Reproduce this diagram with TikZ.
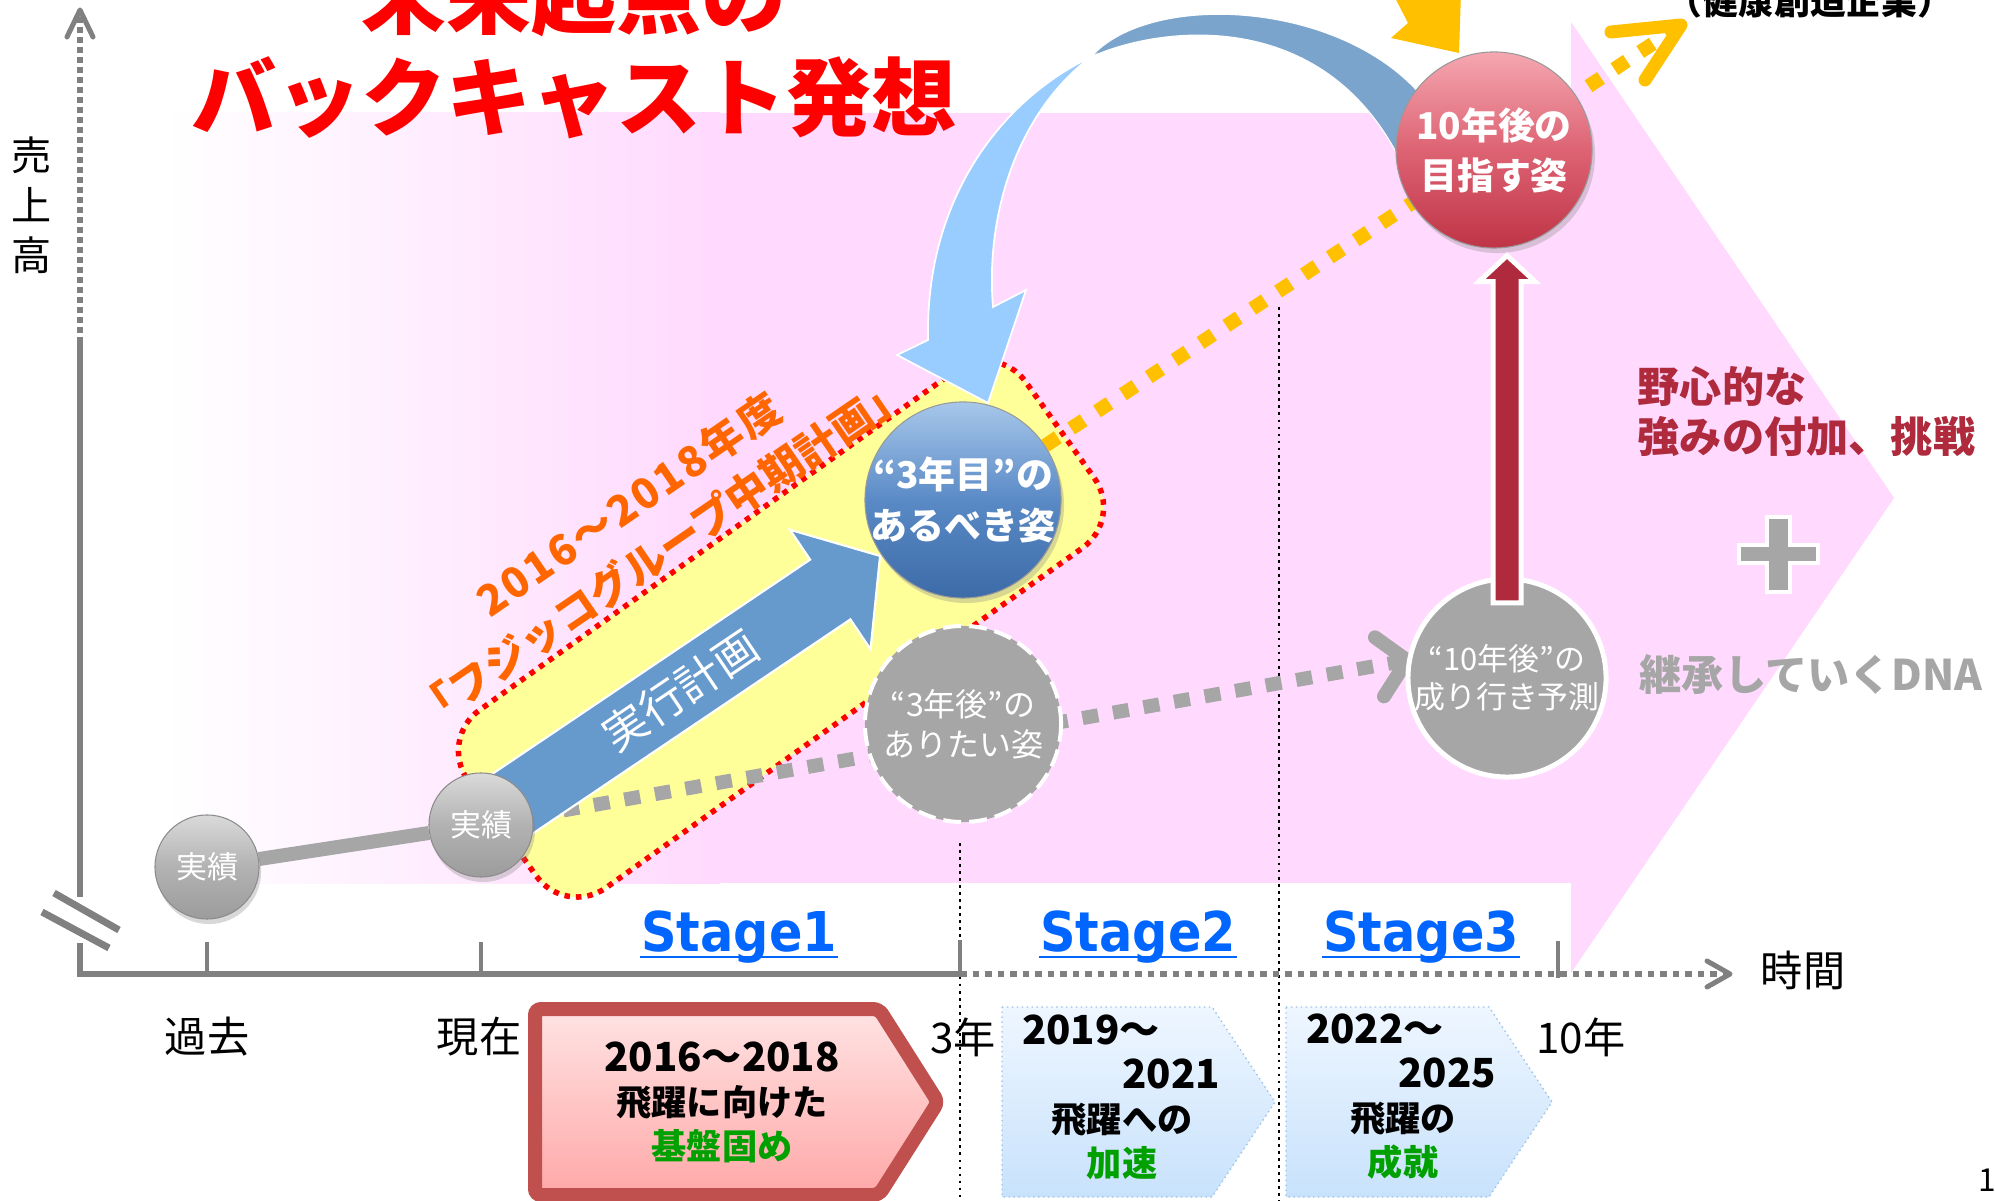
\documentclass[tikz,border=0pt]{standalone}
\usepackage{fontspec}
\usepackage{graphicx}
\setmainfont{Noto Sans CJK JP}
\newfontfamily\stagefont{DejaVu Sans}
\usetikzlibrary{calc,shadows}

\definecolor{pinkbg}{HTML}{FFD9FE}
\definecolor{bandyellow}{HTML}{FFFF99}
\definecolor{planblue}{HTML}{6699CC}
\definecolor{arcdark}{HTML}{7BA4CC}
\definecolor{arclight}{HTML}{99CCFF}
\definecolor{gold}{HTML}{FFC000}
\definecolor{dotgray}{HTML}{A6A6A6}
\definecolor{axisgray}{HTML}{808080}
\definecolor{growred}{HTML}{AE2A3C}
\definecolor{stageblue}{HTML}{0066FF}
\definecolor{boxred}{HTML}{C0504D}
\definecolor{boxpinktop}{HTML}{FFE3E3}
\definecolor{boxpinkbot}{HTML}{FFA8A8}
\definecolor{boxbluetop}{HTML}{EEF6FF}
\definecolor{boxbluebot}{HTML}{C8E2FC}
\definecolor{boxblueline}{HTML}{9DC3E6}
\definecolor{kgreen}{HTML}{00A000}
\definecolor{orangetxt}{HTML}{FF6600}
\definecolor{titlered}{HTML}{FF0000}
\definecolor{bluetop}{HTML}{A7C7EA}
\definecolor{bluemid}{HTML}{5A8AC6}
\definecolor{bluebot}{HTML}{3C6BA8}
\definecolor{redtop}{HTML}{F5A7B1}
\definecolor{redmid}{HTML}{DD6373}
\definecolor{redbot}{HTML}{BF3447}
\definecolor{graytop}{HTML}{DADADA}
\definecolor{graymid}{HTML}{B2B2B2}
\definecolor{graybot}{HTML}{9C9C9C}

\pgfdeclarelayer{back}
\pgfdeclarelayer{mid}
\pgfsetlayers{back,mid,main}

\begin{document}
\begin{tikzpicture}[x=0.01cm, y=-0.01cm,
    sphere/.style={circle, inner sep=-2pt, align=center, text=white},
    jisseki/.style={sphere, minimum size=1.04cm, top color=graytop,
      bottom color=graybot, middle color=graymid, draw=black!45, line width=0.3pt,
      drop shadow={opacity=0.3, shadow xshift=0.02cm, shadow yshift=-0.05cm},
      font=\fontsize{8.8}{10}\selectfont},
    bluesphere/.style={sphere, minimum size=1.96cm, top color=bluetop,
      bottom color=bluebot, middle color=bluemid, draw=black!40, line width=0.3pt,
      drop shadow={opacity=0.3, shadow xshift=0.03cm, shadow yshift=-0.05cm},
      font=\fontsize{10.5}{14.5}\selectfont\bfseries},
    redsphere/.style={sphere, minimum size=1.96cm, top color=redtop,
      bottom color=redbot, middle color=redmid, draw=black!40, line width=0.3pt,
      drop shadow={opacity=0.3, shadow xshift=0.03cm, shadow yshift=-0.05cm},
      font=\fontsize{10.5}{14.2}\selectfont\bfseries},
    wantcircle/.style={sphere, minimum size=1.96cm, fill=dotgray, draw=white,
      line width=0.04cm, dash pattern=on 0.18cm off 0.08cm,
      font=\fontsize{9.1}{11.4}\selectfont},
    forecast/.style={sphere, minimum size=1.98cm, fill=dotgray, draw=white,
      line width=0.05cm, font=\fontsize{8.8}{10.8}\selectfont},
    band/.style={fill=bandyellow, draw=red, line width=0.055cm,
      dash pattern=on 0.055cm off 0.06cm, rounded corners=0.5cm,
      minimum width=6.85cm, minimum height=2.18cm, inner sep=0pt},
    plantext/.style={align=center, text=orangetxt,
      font=\fontsize{12}{16.4}\selectfont\bfseries},
    plantxt/.style={text=white, font=\fontsize{12.5}{14}\selectfont},
    actline/.style={draw=dotgray, line width=0.14cm},
    graydots/.style={draw=dotgray, line width=0.14cm, dash pattern=on 0.16cm off 0.15cm},
    graychev/.style={draw=dotgray, line width=0.14cm, line cap=round, line join=round},
    golddots/.style={draw=gold, line width=0.14cm, dash pattern=on 0.15cm off 0.16cm},
    goldchev/.style={draw=gold, line width=0.13cm, line cap=round, line join=round},
    planarrow/.style={fill=planblue, draw=white, line width=0.6pt},
    backarc/.style={fill=arcdark, draw=white, line width=0.3pt},
    frontarc/.style={fill=arclight, draw=white, line width=0.5pt},
    growarrow/.style={fill=growred, draw=white, line width=0.05cm},
    axisline/.style={draw=axisgray, line width=0.06cm},
    axisdash/.style={axisline, dash pattern=on 0.06cm off 0.04cm},
    axisdots/.style={axisline, dash pattern=on 0.065cm off 0.06cm},
    axischev/.style={draw=axisgray, line width=0.05cm, line cap=round, line join=round},
    breakmark/.style={draw=axisgray, line width=0.07cm},
    tickline/.style={draw=axisgray, line width=0.045cm},
    guide/.style={draw=black, line width=0.4pt, dash pattern=on 0.8pt off 1.2pt},
    axislbl/.style={font=\fontsize{12}{14}\selectfont},
    sidelbl/.style={anchor=west, inner sep=0pt, align=left},
    stagelbl/.style={inner sep=0pt, anchor=base, text=stageblue,
      font=\stagefont\bfseries\fontsize{15.6}{18}\selectfont},
    stageul/.style={draw=stageblue, line width=0.6pt},
    redbox/.style={draw=boxred, line width=0.14cm, rounded corners=0.06cm,
      top color=boxpinktop, bottom color=boxpinkbot},
    bluebox/.style={draw=boxblueline, line width=0.4pt, densely dotted,
      top color=boxbluetop, bottom color=boxbluebot},
    boxtext/.style={align=center, font=\fontsize{10}{12.5}\selectfont\bfseries},
    plussign/.style={fill=dotgray, draw=white, line width=0.04cm},
    titletext/.style={text=titlered, font=\fontsize{24.2}{28}\selectfont\bfseries}]
  \useasboundingbox (0,0) rectangle (1995,1201);

  % 球
  \node[bluesphere] (aru) at (963,500) {“3年目”の\\あるべき姿};
  \node[wantcircle] (want) at (963,724) {“3年後”の\\ありたい姿};
  \node[redsphere] (mezasu) at (1494,150) {10年後の\\目指す姿};
  \node[forecast] (yuku) at (1507,678) {“10年後”の\\成り行き予測};
  \node[jisseki] (past) at (207,867) {実績};
  \node[jisseki] (now) at (481,825) {実績};

  \begin{pgfonlayer}{back}
    % 背景の矢印
    \fill[white] (0,0) rectangle (1995,1201);
    \fill[pinkbg] (166,113) rectangle (1572,883);
    \shade[left color=white, right color=pinkbg] (166,113) rectangle (720,883);
    \fill[pinkbg] (1571,22) -- (1894,498) -- (1571,973) -- cycle;
    % 補助線
    \draw[guide] (960,843) -- (960,1201);
    \draw[guide] (1279,307) -- (1279,1201);
    % 軸
    \coordinate (O) at (80,974);
    \draw[axisline] (80,943) -- (O) -- (960,974);
    \draw[axisline] (80,897) -- (80,343);
    \draw[axisdash] (80,343) -- (80,14);
    \draw[axischev] (67,37) -- (80,10) -- (93,37);
    \draw[axisdots] (960,974) -- (1726,974);
    \draw[axischev] (1707,961) -- (1730,974) -- (1707,987);
    \draw[breakmark] (54,893) -- (119,930);
    \draw[breakmark] (42,912) -- (109,948);
    \draw[tickline] (207,942) -- (207,974);
    \draw[tickline] (481,942) -- (481,974);
    \draw[tickline] (960,940) -- (960,974);
    \draw[tickline] (1558,941) -- (1558,978);
    % 中期計画の帯
    \node[band, rotate=35.5] (plan) at (781,629) {};
    \node[plantext, rotate=34.5] (plantitle) at (645,528)
      {{\addfontfeature{LetterSpace=6}2016～2018年度}\\「フジッコグループ中期計画」};
  \end{pgfonlayer}

  \begin{pgfonlayer}{mid}
    % 実績と成り行き
    \draw[actline] (past) -- (now);
    \draw[graydots] (now.10) -- (yuku.170);
    \draw[graychev] ([shift={(-32,-23)}]yuku.170) -- (yuku.170)
      -- ([shift={(-23,36)}]yuku.170);
    % 実行計画
    \filldraw[planarrow] ($(now)!0.2cm!(aru)!0.36cm!90:(aru)$)
      -- ($(now)!4.21cm!(aru)!0.36cm!90:(aru)$)
      -- ($(now)!4.21cm!(aru)!0.72cm!90:(aru)$)
      -- ($(now)!4.81cm!(aru)$)
      -- ($(now)!4.21cm!(aru)!0.72cm!-90:(aru)$)
      -- ($(now)!4.21cm!(aru)!0.36cm!-90:(aru)$)
      -- ($(now)!0.2cm!(aru)!0.36cm!-90:(aru)$) -- cycle;
    \path (now) -- (aru) node[plantxt, pos=0.437, sloped] (jikko) {実行計画};
    % 目指す姿への線
    \coordinate (goal) at (1681,25);
    \draw[golddots] (aru) -- (goal);
    \draw[goldchev] ([shift={(-70,7)}]goal) -- (goal) -- ([shift={(-36,55)}]goal);
    \fill[gold] (1392,-8) -- (1408,23) -- (1391,38) -- (1459,53) -- (1461,-8) -- cycle;
    % バックキャストの矢印
    \filldraw[backarc] (1425,100) .. controls (1345,0) and (1150,-10) .. (1091,57)
      .. controls (1160,25) and (1345,0) .. (1415,195) -- cycle;
    \filldraw[frontarc] (1091,57) .. controls (1010,95) and (925,190) .. (928,340)
      -- (897,355) -- (988,403) -- (1026,290) -- (993,307)
      .. controls (985,210) and (1020,110) .. (1091,57) -- cycle;
  \end{pgfonlayer}

  % 成長の矢印
  \coordinate (rt) at (yuku.center |- mezasu.south);
  \filldraw[growarrow] ($(yuku.center)+(-14,-75)$) -- ($(rt)+(-14,33)$)
    -- ($(rt)+(-28,33)$) -- ($(rt)+(0,7)$) -- ($(rt)+(28,33)$)
    -- ($(rt)+(14,33)$) -- ($(yuku.center)+(14,-75)$) -- cycle;

  % タイトル
  \node[titletext] (title1) at (574,-4) {未来起点の};
  \node[titletext] (title2) at (574,98) {バックキャスト発想};
  \node[font=\fontsize{10.2}{12}\selectfont\bfseries] (kenko) at (1810,1) {（健康創造企業）};

  % 軸ラベル
  \node[align=center, font=\fontsize{11.4}{14.2}\selectfont] (uriage) at (32,205) {売\\上\\高};
  \node[axislbl] (kako) at (207,1037) {過去};
  \node[axislbl] (genzai) at (479,1037) {現在};
  \node[axislbl] (y3) at (963,1037) {3年};
  \node[axislbl] (y10) at (1581,1037) {10年};
  \node[axislbl] (jikan) at (1803,970) {時間};

  % 右側の説明
  \node[sidelbl, text=growred, font=\fontsize{12}{14.2}\selectfont\bfseries]
    (yashin) at (1637,412) {野心的な\\強みの付加、挑戦};
  \filldraw[plussign] (1767,517) -- (1790,517) -- (1790,545) -- (1818,545)
    -- (1818,563) -- (1790,563) -- (1790,592) -- (1767,592) -- (1767,563)
    -- (1739,563) -- (1739,545) -- (1767,545) -- cycle;
  \node[sidelbl, text=dotgray, font=\fontsize{12}{14}\selectfont\bfseries]
    (dna) at (1639,675) {継承していくDNA};

  % ステージ
  \node[stagelbl] (st1) at (739,951) {\scalebox{0.9}[1]{Stage1}};
  \node[stagelbl] (st2) at (1138,951) {\scalebox{0.9}[1]{Stage2}};
  \node[stagelbl] (st3) at (1421,951) {\scalebox{0.9}[1]{Stage3}};
  \foreach \s in {st1,st2,st3}
    \draw[stageul] ($(\s.base west)+(0,6)$) -- ($(\s.base east)+(0,6)$);

  % 下の箱
  \path[redbox] (535,1009) -- (879,1009) -- (938,1102) -- (879,1195)
    -- (535,1195) -- cycle;
  \path[bluebox] (1002,1007) -- (1212,1007) -- (1275,1102) -- (1212,1197)
    -- (1002,1197) -- cycle;
  \path[bluebox] (1286,1007) -- (1489,1007) -- (1552,1102) -- (1489,1197)
    -- (1286,1197) -- cycle;
  \node[boxtext] (t1) at (722,1102)
    {{\fontsize{11.4}{12.5}\selectfont 2016～2018}\\飛躍に向けた\\
     \textcolor{kgreen}{基盤固め}};
  \node[boxtext] (t2) at (1122,1097)
    {{\fontsize{11.4}{12.4}\selectfont\hspace*{-0.62cm}2019～}\\
     {\fontsize{11.4}{12.4}\selectfont\hspace*{0.98cm}2021}\\飛躍への\\
     \textcolor{kgreen}{加速}};
  \node[boxtext] (t3) at (1403,1097)
    {{\fontsize{11.4}{12.4}\selectfont\hspace*{-0.56cm}2022～}\\
     {\fontsize{11.4}{12.4}\selectfont\hspace*{0.88cm}2025}\\飛躍の\\
     \textcolor{kgreen}{成就}};
  \node[anchor=west, font=\fontsize{9}{10}\selectfont] (pageno) at (1966,1180) {19};
\end{tikzpicture}
\end{document}
